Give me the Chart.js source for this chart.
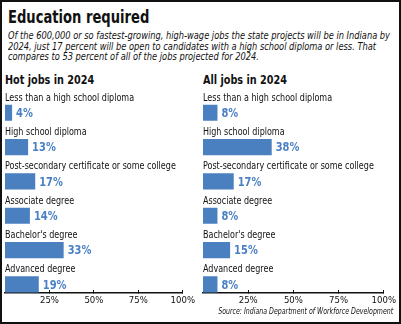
<!DOCTYPE html>
<html>
<head>
<meta charset="utf-8">
<script src="https://cdn.jsdelivr.net/npm/chart.js@4"></script>
<style>
  body { margin: 0; background: #fff; }
  #frame { position: absolute; left: 0; top: 0; width: 401px; height: 324px; box-sizing: border-box; border: 2px solid #111; background: #fff; }
  .txt { position: absolute; font-family: "DejaVu Sans Condensed", "DejaVu Sans", sans-serif; color: #111; white-space: nowrap; transform-origin: left top; }
  #title { left: 8px; top: 7px; font-size: 18px; font-weight: bold; line-height: 20px; transform: scaleX(0.81); }
  #sub { left: 8px; top: 31px; font-size: 9.7px; font-style: italic; line-height: 10.5px; transform: scaleX(0.95); }
  .panel { font-size: 12.5px; font-weight: bold; top: 73px; line-height: 14px; transform: scaleX(0.86); }
  #source { right: 8px; top: 307px; font-size: 8px; font-style: italic; line-height: 10px; transform-origin: right top; transform: scaleX(0.87); }
  .box { position: absolute; top: 87px; height: 228px; }
</style>
</head>
<body>
<div id="frame"></div>
<div class="txt" id="title">Education required</div>
<div class="txt" id="sub">Of the 600,000 or so fastest-growing, high-wage jobs the state projects will be in Indiana by<br>2024, just 17 percent will be open to candidates with a high school diploma or less. That<br>compares to 53 percent of all of the jobs projected for 2024.</div>
<div class="txt panel" style="left:5px">Hot jobs in 2024</div>
<div class="txt panel" style="left:203px">All jobs in 2024</div>
<div class="box" style="left:0; width:200px"><canvas id="hotJobs"></canvas></div>
<div class="box" style="left:198px; width:203px"><canvas id="allJobs"></canvas></div>
<div class="txt" id="source">Source: Indiana Department of Workforce Development</div>
<script>
const categories = ['Less than a high school diploma', 'High school diploma', 'Post-secondary certificate or some college', 'Associate degree', "Bachelor's degree", 'Advanced degree'];
const hotJobs = [4, 13, 17, 14, 33, 19];
const allJobs = [8, 38, 17, 8, 15, 8];
const xTicks = [25, 50, 75, 100];

const FONT = '"DejaVu Sans Condensed", "DejaVu Sans", sans-serif';
const barBlue = '#4a7fc0';
const valueBlue = '#4a80c4';

// squeezed text, the reference uses a narrow face
function narrowText(ctx, text, x, y, sx) {
  ctx.save();
  ctx.translate(x, y);
  ctx.scale(sx, 1);
  ctx.fillText(text, 0, 0);
  ctx.restore();
}

// category name above each bar, value to the right of it
const rowLabels = {
  id: 'rowLabels',
  afterDatasetsDraw(chart) {
    const ctx = chart.ctx;
    const meta = chart.getDatasetMeta(1);
    const vals = chart.data.datasets[1].data;
    ctx.save();
    meta.data.forEach((bar, i) => {
      const top = bar.y - bar.height / 2;
      ctx.textAlign = 'left';
      ctx.textBaseline = 'alphabetic';
      ctx.font = '10.5px ' + FONT;
      ctx.fillStyle = '#111';
      narrowText(ctx, categories[i], chart.chartArea.left, top - 4, 0.85);
      ctx.font = 'bold 12.5px ' + FONT;
      ctx.fillStyle = valueBlue;
      ctx.textBaseline = 'middle';
      narrowText(ctx, vals[i] + '%', bar.x + 4, bar.y + 1, 0.88);
    });
    ctx.restore();
  }
};

function makeChart(id, values, padLeft, padRight) {
  return new Chart(document.getElementById(id), {
    type: 'bar',
    data: {
      labels: categories,
      datasets: [
        { data: categories.map(() => null) },   // empty slot: room for the label row
        { data: values, backgroundColor: barBlue, borderWidth: 0 }
      ]
    },
    options: {
      indexAxis: 'y',
      animation: false,
      responsive: true,
      maintainAspectRatio: false,
      layout: { padding: { left: padLeft, right: padRight, top: 0, bottom: 0 } },
      datasets: { bar: { categoryPercentage: 1, barPercentage: 0.94 } },
      plugins: { legend: { display: false }, tooltip: { enabled: false } },
      scales: {
        y: { display: false },
        x: {
          min: 0,
          max: 100,
          afterBuildTicks: (scale) => { scale.ticks = xTicks.map(v => ({ value: v })); },
          afterFit: (scale) => { scale.height = 22; },
          border: { display: true, color: '#111', width: 1.5 },
          grid: { drawOnChartArea: false, tickLength: -3, color: '#111', lineWidth: 1 },
          ticks: { padding: 5, color: '#111', font: { family: FONT, size: 9.5 }, callback: (v) => v + '%', maxRotation: 0 }
        }
      }
    },
    plugins: [rowLabels]
  });
}

makeChart('hotJobs', hotJobs, 5, 14);
makeChart('allJobs', allJobs, 5, 15);
</script>
</body>
</html>
